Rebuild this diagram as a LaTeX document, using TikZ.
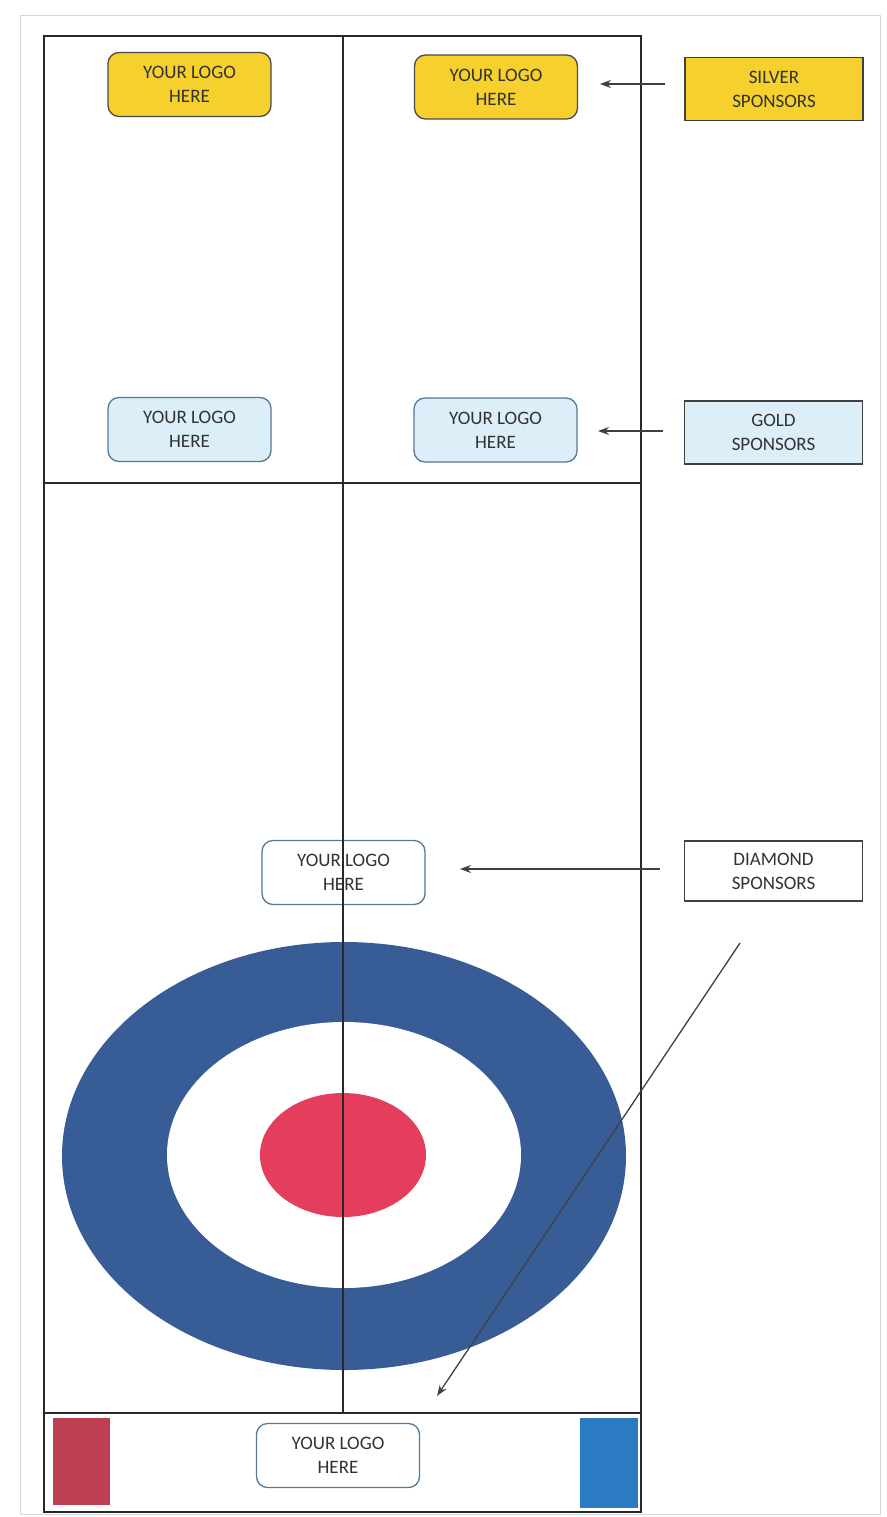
\documentclass[tikz,border=0pt]{standalone}
\usepackage{fontspec}
\setmainfont{Carlito}
\usetikzlibrary{arrows.meta}
\definecolor{pagegrey}{RGB}{215,215,215}
\definecolor{rinkline}{RGB}{40,40,40}
\definecolor{logoyellow}{RGB}{246,208,45}
\definecolor{logoblue}{RGB}{220,238,248}
\definecolor{bluedge}{RGB}{85,120,150}
\definecolor{ringblue}{RGB}{55,92,150}
\definecolor{buttonred}{RGB}{228,62,92}
\definecolor{stonered}{RGB}{190,62,84}
\definecolor{stoneblue}{RGB}{42,122,196}
\definecolor{txt}{RGB}{50,50,50}
\begin{document}
\begin{tikzpicture}[x=1pt,y=-1pt,
  rink/.style={draw=rinkline,line width=1.6pt},
  logobox/.style={rounded corners=11pt,minimum width=163pt,minimum height=64pt,align=center,
    font=\fontsize{19}{24}\selectfont,text=txt,line width=1.3pt,inner sep=0pt},
  yellowlogo/.style={logobox,fill=logoyellow,draw=black!70},
  bluelogo/.style={logobox,fill=logoblue,draw=bluedge},
  whitelogo/.style={logobox,fill=white,draw=bluedge},
  labelbox/.style={minimum width=178pt,minimum height=63pt,align=center,
    font=\fontsize{19}{24}\selectfont,text=txt,line width=1.4pt,inner sep=0pt,draw=black!75},
  pointer/.style={draw=black!75,line width=1.3pt,-{Stealth[length=11pt,width=8pt]}}]
\useasboundingbox (0,0) rectangle (886,1517);
\fill[white] (0,0) rectangle (886,1517);
\draw[pagegrey,line width=1pt] (20,16) rectangle (880,1514);
% house
\fill[ringblue] (344,1156) ellipse [x radius=282, y radius=214];
\fill[white] (344,1155) ellipse [x radius=177, y radius=133];
\fill[buttonred] (343,1155) ellipse [x radius=83, y radius=62];
% stones area
\fill[stonered] (53,1418) rectangle (110,1505);
\fill[stoneblue] (580,1418) rectangle (638,1508);
% rink outline
\draw[rink] (44,36) rectangle (641,1512);
\draw[rink] (44,483) -- (641,483);
\draw[rink] (44,1413) -- (641,1413);
% logo nodes
\node[yellowlogo] (y1) at (189.5,84.5) {YOUR LOGO\\HERE};
\node[yellowlogo] (y2) at (496,87) {YOUR LOGO\\HERE};
\node[bluelogo] (b1) at (189.5,429.5) {YOUR LOGO\\HERE};
\node[bluelogo] (b2) at (495.5,430) {YOUR LOGO\\HERE};
\node[whitelogo] (d1) at (343.5,872.5) {YOUR LOGO\\HERE};
\node[whitelogo] (f1) at (338,1455.5) {YOUR LOGO\\HERE};
% labels
\node[labelbox,fill=logoyellow] (silver) at (774,89) {SILVER\\SPONSORS};
\node[labelbox,fill=logoblue] (gold) at (773.5,432.5) {GOLD\\SPONSORS};
\node[labelbox,fill=white,minimum height=60pt] (diamond) at (773.5,871) {DIAMOND\\SPONSORS};
% center line
\draw[rink] (343,36) -- (343,1413);
% pointers
\coordinate (sA) at (665,84);
\coordinate (sB) at (600,84);
\coordinate (gA) at (663,431);
\coordinate (gB) at (598,431);
\coordinate (dA) at (660,869);
\coordinate (dB) at (460,869);
\coordinate (eA) at (740,943);
\coordinate (eB) at (437,1396);
\draw[pointer] (sA) -- (sB);
\draw[pointer] (gA) -- (gB);
\draw[pointer] (dA) -- (dB);
\draw[pointer] (eA) -- (eB);
\end{tikzpicture}
\end{document}
